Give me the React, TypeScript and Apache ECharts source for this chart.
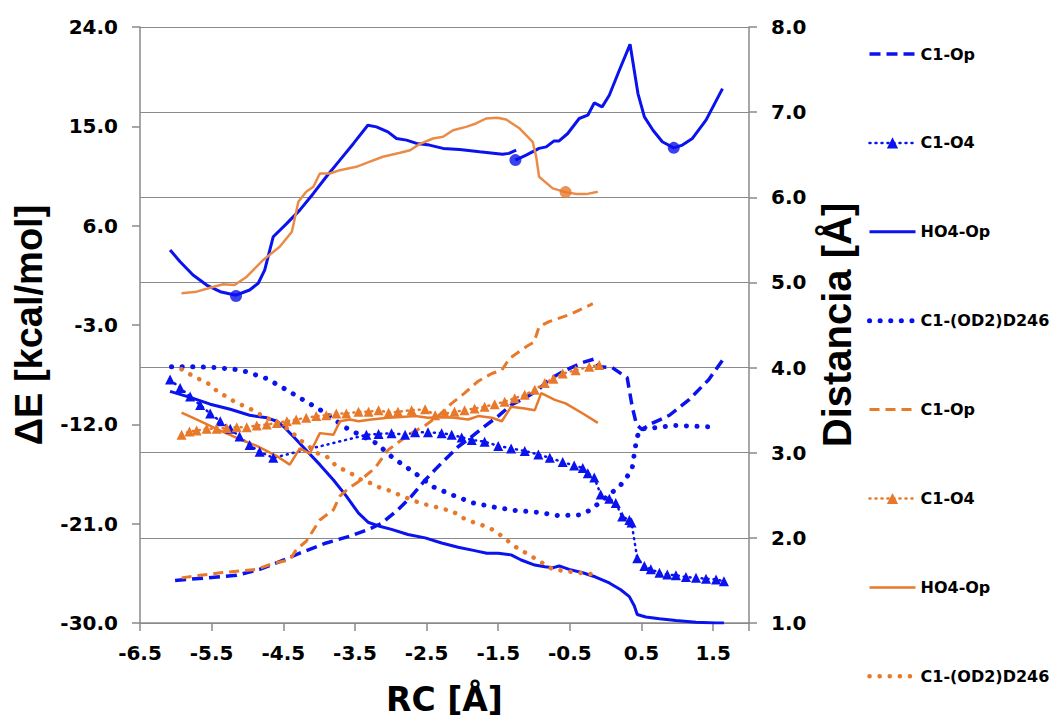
import React, { useEffect, useRef } from "react";
import * as echarts from "echarts";

type P = [number, number];

// ---- Energy profiles (left axis, kcal/mol) ----
const blueEnergyA: P[] = [[-6.08,3.8],[-5.94,2.73],[-5.76,1.53],[-5.57,0.62],[-5.38,0.02],[-5.16,-0.3],[-4.97,0.17],[-4.85,0.78],[-4.76,1.98],[-4.64,5.0],[-4.45,6.21],[-4.27,7.41],[-4.08,8.92],[-3.9,10.43],[-3.71,11.94],[-3.52,13.45],[-3.32,15.1],[-3.2,14.95],[-3.04,14.5],[-2.92,13.9],[-2.78,13.75],[-2.64,13.45],[-2.46,13.3],[-2.27,13.0],[-2.04,12.9],[-1.76,12.69],[-1.44,12.48],[-1.35,12.55],[-1.25,12.84]];
const blueEnergyB: P[] = [[-1.26,11.94],[-1.11,12.39],[-0.93,13.0],[-0.83,13.14],[-0.72,13.68],[-0.65,13.68],[-0.53,14.35],[-0.37,15.71],[-0.25,16.01],[-0.16,17.12],[-0.05,16.76],[0.05,17.82],[0.19,20.08],[0.34,22.43],[0.45,17.97],[0.54,15.86],[0.66,14.65],[0.79,13.6],[0.95,13.05],[1.07,13.3],[1.21,13.9],[1.4,15.56],[1.63,18.42]];
const orangeEnergy: P[] = [[-5.92,-0.13],[-5.71,0.02],[-5.52,0.38],[-5.34,0.69],[-5.18,0.62],[-5.01,1.38],[-4.78,2.89],[-4.55,4.09],[-4.38,5.45],[-4.29,8.16],[-4.18,9.07],[-4.08,9.52],[-3.99,10.73],[-3.85,10.73],[-3.71,11.03],[-3.48,11.33],[-3.3,11.78],[-3.11,12.24],[-2.87,12.6],[-2.73,12.84],[-2.6,13.39],[-2.41,13.9],[-2.27,14.05],[-2.13,14.65],[-1.95,14.95],[-1.81,15.26],[-1.67,15.71],[-1.51,15.77],[-1.39,15.62],[-1.2,14.8],[-1.02,13.6],[-0.97,12.24],[-0.93,10.43],[-0.74,9.38],[-0.56,9.04],[-0.41,8.86],[-0.27,8.86],[-0.11,9.07]];
const blueMinima: P[] = [[-5.16,-0.37],[-1.26,11.94],[0.95,13.05]];
const orangeMinima: P[] = [[-0.56,9.04]];

// ---- Distances (right axis, Å) ----
const blueC1Op: P[] = [[-6.01,1.5],[-5.57,1.53],[-5.15,1.56],[-4.83,1.63],[-4.55,1.72],[-4.27,1.82],[-3.9,1.94],[-3.57,2.02],[-3.31,2.1],[-3.13,2.17],[-2.9,2.33],[-2.71,2.49],[-2.52,2.68],[-2.29,2.88],[-2.06,3.07],[-1.87,3.19],[-1.69,3.31],[-1.5,3.43],[-1.32,3.56],[-1.13,3.64],[-0.94,3.74],[-0.79,3.86],[-0.56,3.97],[-0.32,4.06],[-0.16,4.1],[-0.09,4.01],[0.09,4.0],[0.3,3.88],[0.37,3.54],[0.43,3.33],[0.51,3.27],[0.61,3.33],[0.89,3.44],[1.16,3.62],[1.44,3.86],[1.65,4.11]];
const blueC1O4: P[] = [[-6.08,3.86],[-5.94,3.76],[-5.8,3.66],[-5.66,3.56],[-5.52,3.46],[-5.38,3.37],[-5.24,3.28],[-5.11,3.19],[-4.97,3.09],[-4.83,3.01],[-4.64,2.94],[-3.34,3.21],[-3.17,3.22],[-2.99,3.23],[-2.8,3.21],[-2.66,3.24],[-2.48,3.24],[-2.29,3.23],[-2.15,3.21],[-2.01,3.18],[-1.87,3.15],[-1.69,3.13],[-1.5,3.08],[-1.32,3.05],[-1.13,3.02],[-0.94,2.98],[-0.78,2.94],[-0.6,2.89],[-0.44,2.85],[-0.32,2.82],[-0.25,2.76],[-0.16,2.71],[-0.07,2.51],[0.05,2.46],[0.14,2.41],[0.23,2.25],[0.33,2.21],[0.36,2.18],[0.44,1.76],[0.54,1.67],[0.63,1.63],[0.75,1.59],[0.86,1.57],[0.98,1.56],[1.12,1.54],[1.26,1.53],[1.4,1.52],[1.54,1.51],[1.65,1.49]];
const blueHO4Op: P[] = [[-6.08,3.72],[-5.8,3.65],[-5.52,3.57],[-5.24,3.51],[-4.97,3.44],[-4.73,3.41],[-4.59,3.37],[-4.5,3.31],[-4.36,3.19],[-4.18,3.03],[-3.99,2.86],[-3.8,2.68],[-3.62,2.49],[-3.45,2.29],[-3.31,2.18],[-3.17,2.14],[-2.99,2.1],[-2.76,2.04],[-2.52,2.0],[-2.29,1.94],[-2.06,1.89],[-1.83,1.85],[-1.66,1.82],[-1.5,1.82],[-1.32,1.8],[-1.18,1.74],[-0.99,1.68],[-0.85,1.66],[-0.73,1.65],[-0.65,1.67],[-0.51,1.63],[-0.32,1.59],[-0.14,1.54],[0.05,1.47],[0.21,1.39],[0.33,1.31],[0.4,1.2],[0.44,1.1],[0.56,1.07],[0.75,1.05],[0.98,1.03],[1.26,1.01],[1.54,1.0],[1.65,1.0]];
const blueOD2: P[] = [[-6.06,4.01],[-5.76,4.01],[-5.45,4.0],[-5.18,3.98],[-5.01,3.95],[-4.73,3.87],[-4.48,3.75],[-4.22,3.62],[-3.94,3.48],[-3.62,3.29],[-3.2,3.11],[-2.97,2.94],[-2.66,2.76],[-2.41,2.6],[-2.13,2.5],[-1.85,2.41],[-1.55,2.36],[-1.25,2.32],[-0.94,2.3],[-0.65,2.26],[-0.37,2.27],[-0.23,2.32],[-0.09,2.41],[0.05,2.51],[0.19,2.6],[0.3,2.72],[0.37,2.82],[0.41,3.05],[0.44,3.19],[0.49,3.28],[0.65,3.29],[0.96,3.32],[1.26,3.31],[1.56,3.3]];
const orangeC1Op: P[] = [[-5.92,1.53],[-5.66,1.56],[-5.38,1.59],[-5.11,1.61],[-4.87,1.63],[-4.64,1.7],[-4.41,1.74],[-4.32,1.86],[-4.18,1.96],[-3.99,2.21],[-3.8,2.33],[-3.71,2.49],[-3.59,2.58],[-3.45,2.66],[-3.22,2.82],[-3.04,3.03],[-2.85,3.15],[-2.71,3.23],[-2.52,3.32],[-2.34,3.43],[-2.15,3.58],[-1.97,3.7],[-1.78,3.84],[-1.59,3.93],[-1.45,3.97],[-1.34,4.11],[-1.1,4.25],[-1.0,4.3],[-0.93,4.48],[-0.79,4.54],[-0.51,4.62],[-0.18,4.75]];
const orangeC1O4: P[] = [[-5.92,3.21],[-5.81,3.25],[-5.71,3.26],[-5.57,3.28],[-5.43,3.28],[-5.29,3.29],[-5.15,3.3],[-5.01,3.3],[-4.87,3.32],[-4.73,3.33],[-4.59,3.35],[-4.45,3.37],[-4.32,3.39],[-4.18,3.41],[-4.04,3.43],[-3.9,3.44],[-3.76,3.46],[-3.62,3.46],[-3.45,3.48],[-3.31,3.48],[-3.17,3.5],[-3.03,3.47],[-2.9,3.48],[-2.71,3.5],[-2.52,3.51],[-2.38,3.44],[-2.24,3.46],[-2.11,3.48],[-1.97,3.5],[-1.83,3.52],[-1.69,3.54],[-1.55,3.57],[-1.41,3.6],[-1.27,3.64],[-1.13,3.68],[-0.99,3.74],[-0.85,3.82],[-0.73,3.87],[-0.6,3.93],[-0.42,3.97],[-0.23,4.01],[-0.09,4.03]];
const orangeHO4Op: P[] = [[-5.92,3.47],[-5.66,3.37],[-5.38,3.26],[-5.11,3.16],[-4.87,3.08],[-4.59,2.96],[-4.41,2.86],[-4.27,3.05],[-4.13,2.99],[-3.99,3.23],[-3.8,3.21],[-3.71,3.37],[-3.57,3.39],[-3.45,3.37],[-3.27,3.39],[-3.04,3.41],[-2.85,3.42],[-2.66,3.43],[-2.48,3.41],[-2.29,3.42],[-2.11,3.41],[-1.92,3.39],[-1.78,3.43],[-1.59,3.41],[-1.45,3.37],[-1.32,3.54],[-1.13,3.52],[-0.99,3.5],[-0.9,3.7],[-0.71,3.62],[-0.56,3.58],[-0.32,3.46],[-0.11,3.35]];
const orangeOD2: P[] = [[-5.92,3.98],[-5.78,3.91],[-5.64,3.85],[-5.52,3.8],[-5.41,3.71],[-5.27,3.65],[-5.15,3.58],[-5.01,3.54],[-4.87,3.47],[-4.76,3.42],[-4.5,3.32],[-4.38,3.24],[-4.27,3.15],[-4.15,3.08],[-4.04,3.0],[-3.9,2.96],[-3.78,2.86],[-3.66,2.8],[-3.52,2.74],[-3.41,2.68],[-3.27,2.64],[-3.13,2.58],[-2.99,2.55],[-2.85,2.49],[-2.71,2.45],[-2.57,2.4],[-2.43,2.38],[-2.29,2.34],[-2.15,2.32],[-2.01,2.24],[-1.87,2.19],[-1.73,2.15],[-1.59,2.1],[-1.48,2.04],[-1.36,1.96],[-1.25,1.89],[-1.13,1.83],[-0.99,1.76],[-0.74,1.63],[-0.37,1.59],[-0.16,1.57]];

const legendNames = ["C1-Op", "C1-O4", "HO4-Op", "C1-(OD2)D246", "C1-Op ", "C1-O4 ", "HO4-Op ", "C1-(OD2)D246 "];
const legendHasMarker = [false, true, false, false, false, true, false, false];

const BLUE = "#0a12ee";
const ORANGE = "#e8782a";
const ORANGE_E = "#ea8c48";
const GRID = "#8a8a8a";
const TICK_FONT = "'DejaVu Sans', sans-serif";

export default function App() {
  const ref = useRef<HTMLDivElement>(null);
  useEffect(() => {
    if (!ref.current) return;
    const chart = echarts.init(ref.current, undefined, { renderer: "svg" });
    const axisLabelStyle = {
      color: "#000",
      fontFamily: TICK_FONT,
      fontWeight: "bold" as const,
      fontSize: 20,
    };
    const dashed = (name: string, data: P[], color: string, width: number, dash: number[]) => ({
      name, type: "line", yAxisIndex: 1, data, symbol: "none", z: 3,
      lineStyle: { color, width, type: dash, cap: "butt" },
      itemStyle: { color },
    });
    const tri = (name: string, data: P[], color: string) => ({
      name, type: "line", yAxisIndex: 1, data, symbol: "triangle", symbolSize: 10, z: 3,
      lineStyle: { color, width: 2.5, type: [1, 5], cap: "round" },
      itemStyle: { color },
    });
    const solid = (name: string, data: P[], color: string, width: number) => ({
      name, type: "line", yAxisIndex: 1, data, symbol: "none", z: 3,
      lineStyle: { color, width },
      itemStyle: { color },
    });
    const dots = (name: string, data: P[], color: string, width: number, gap: number) => ({
      name, type: "line", yAxisIndex: 1, data, symbol: "none", z: 3,
      lineStyle: { color, width, type: [0.1, gap], cap: "round" },
      itemStyle: { color },
    });
    chart.setOption({
      animation: false,
      backgroundColor: "#fff",
      grid: { left: 140, right: 302, top: 27, bottom: 99 },
      legend: {
        orient: "vertical",
        left: 862,
        top: 41,
        itemGap: 72.9,
        itemWidth: 46,
        itemHeight: 14,
        lineStyle: { width: "inherit" },
        data: legendNames.map((n, i) =>
          legendHasMarker[i]
            ? { name: n }
            : { name: n, itemStyle: { color: "rgba(0,0,0,0)", borderColor: "rgba(0,0,0,0)", borderWidth: 0, opacity: 0 } }
        ),
        formatter: (n: string) => n.trim(),
        textStyle: { color: "#000", fontFamily: TICK_FONT, fontWeight: "bold", fontSize: 16 },
        selectedMode: false,
      },
      xAxis: {
        type: "value",
        min: -6.5,
        max: 2,
        interval: 1,
        axisLine: { show: true, onZero: false, lineStyle: { color: GRID, width: 1.5 } },
        axisTick: { show: true, length: 8, lineStyle: { color: GRID, width: 1.5 } },
        splitLine: { show: false },
        axisLabel: {
          ...axisLabelStyle,
          margin: 20,
          formatter: (v: number) => (Math.abs(v - 2) < 1e-6 ? "" : v.toFixed(1)),
        },
        name: "RC [Å]",
        nameLocation: "middle",
        nameGap: 60,
        nameTextStyle: { color: "#000", fontFamily: TICK_FONT, fontWeight: "bold", fontSize: 33 },
      },
      yAxis: [
        {
          type: "value",
          position: "left",
          min: -30,
          max: 24,
          interval: 9,
          axisLine: { show: true, onZero: false, lineStyle: { color: GRID, width: 1.5 } },
          axisTick: { show: true, length: 8, lineStyle: { color: GRID, width: 1.5 } },
          splitLine: { show: false },
          axisLabel: { ...axisLabelStyle, margin: 22, formatter: (v: number) => v.toFixed(1) },
          name: "ΔE [kcal/mol]",
          nameLocation: "middle",
          nameRotate: 90,
          nameGap: 92,
          nameTextStyle: { color: "#000", fontFamily: "'Liberation Sans', Arial, sans-serif", fontWeight: "bold", fontSize: 38 },
        },
        {
          type: "value",
          position: "right",
          min: 1,
          max: 8,
          interval: 1,
          axisLine: { show: true, onZero: false, lineStyle: { color: GRID, width: 1.5 } },
          axisTick: { show: true, length: 8, lineStyle: { color: GRID, width: 1.5 } },
          splitLine: { show: true, lineStyle: { color: GRID, width: 1.2 } },
          axisLabel: { ...axisLabelStyle, margin: 22, formatter: (v: number) => v.toFixed(1) },
          name: "Distancia [Å]",
          nameLocation: "middle",
          nameRotate: 90,
          nameGap: 52,
          nameTextStyle: { color: "#000", fontFamily: "'Liberation Sans Narrow', 'Liberation Sans', Arial, sans-serif", fontWeight: "bold", fontSize: 40 },
        },
      ],
      series: [
        { name: "E-blue-1", type: "line", yAxisIndex: 0, data: blueEnergyA, symbol: "none", z: 4, lineStyle: { color: BLUE, width: 3 } },
        { name: "E-blue-2", type: "line", yAxisIndex: 0, data: blueEnergyB, symbol: "none", z: 4, lineStyle: { color: BLUE, width: 3 } },
        { name: "E-orange", type: "line", yAxisIndex: 0, data: orangeEnergy, symbol: "none", z: 4, lineStyle: { color: ORANGE_E, width: 2.5 } },
        { name: "min-blue", type: "scatter", yAxisIndex: 0, data: blueMinima, symbolSize: 12, z: 5, itemStyle: { color: BLUE } },
        { name: "min-orange", type: "scatter", yAxisIndex: 0, data: orangeMinima, symbolSize: 12, z: 5, itemStyle: { color: ORANGE } },
        dashed(legendNames[0], blueC1Op, BLUE, 3.5, [11, 6]),
        tri(legendNames[1], blueC1O4, BLUE),
        solid(legendNames[2], blueHO4Op, BLUE, 3),
        dots(legendNames[3], blueOD2, BLUE, 5, 10.5),
        dashed(legendNames[4], orangeC1Op, ORANGE, 3, [10, 6]),
        tri(legendNames[5], orangeC1O4, ORANGE),
        solid(legendNames[6], orangeHO4Op, ORANGE, 2.5),
        dots(legendNames[7], orangeOD2, ORANGE, 4.5, 10),
      ],
    });
    return () => chart.dispose();
  }, []);
  return <div ref={ref} style={{ position: "fixed", left: 0, top: 0, width: 1051, height: 722 }} />;
}
